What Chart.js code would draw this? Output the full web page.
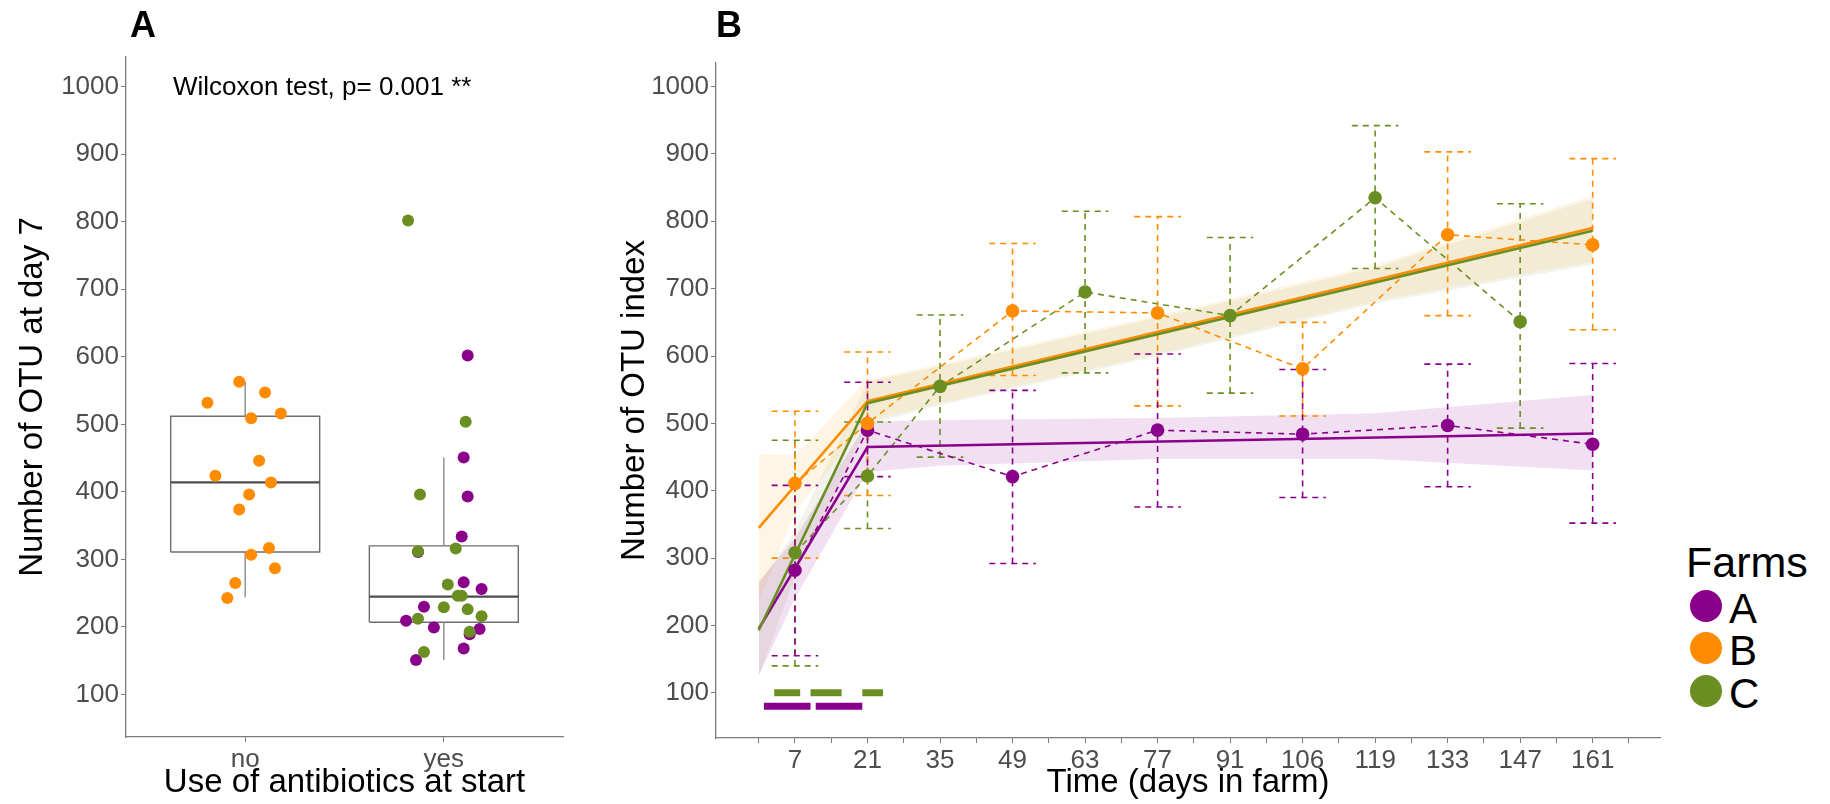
<!DOCTYPE html>
<html>
<head>
<meta charset="utf-8">
<script src="https://cdn.jsdelivr.net/npm/chart.js@4.4.1/dist/chart.umd.min.js"></script>
<style>
html,body{margin:0;padding:0;background:#fff;}
body{width:1830px;height:804px;position:relative;overflow:hidden;font-family:"Liberation Sans",Arial,sans-serif;}
#ca{position:absolute;left:0;top:0;}
#cb{position:absolute;left:600px;top:0;}
.panel{position:absolute;font-weight:bold;font-size:36px;line-height:36px;color:#000;}
#stat{position:absolute;left:173px;top:73px;font-size:26px;line-height:26px;color:#000;white-space:nowrap;}
#legTitle{position:absolute;left:1686px;top:541px;font-size:43px;line-height:43px;color:#000;}
.legDot{position:absolute;left:1690px;width:32px;height:32px;border-radius:50%;}
.legTxt{position:absolute;left:1729px;font-size:42px;line-height:42px;color:#000;}
</style>
</head>
<body>
<canvas id="ca" width="600" height="804"></canvas>
<canvas id="cb" width="1070" height="804"></canvas>
<div class="panel" style="left:130px;top:7px;">A</div>
<div class="panel" style="left:716px;top:7px;">B</div>
<div id="stat">Wilcoxon test, p= 0.001 **</div>
<div id="legend"></div>
<script>
// ---------------- Panel A data ----------------
const groupLabels = ['no', 'yes'];
const boxQ1 = [311, 207];
const boxMedian = [414, 245];
const boxQ3 = [512, 320];
const whiskerLow = [244, 151];
const whiskerHigh = [563, 451];
// Farm B (orange) – no antibiotics
const noFarmB = [563, 547, 532, 509, 516, 446, 424, 414, 396, 374, 307, 317, 287, 265, 243];
const noFarmBJitter = [-0.03, 0.10, -0.19, 0.03, 0.18, 0.07, -0.15, 0.13, 0.02, -0.03, 0.03, 0.12, 0.15, -0.05, -0.09];
// Farm C (green) – antibiotics
const yesFarmC = [802, 504, 396, 312, 316, 263, 246, 246, 229, 226, 212, 216, 193, 163];
const yesFarmCJitter = [-0.18, 0.11, -0.12, -0.13, 0.06, 0.02, 0.07, 0.09, 0.00, 0.12, -0.13, 0.19, 0.13, -0.10];
// Farm A (purple) – antibiotics
const yesFarmA = [602, 451, 393, 334, 311, 266, 256, 230, 209, 199, 197, 189, 168, 151];
const yesFarmAJitter = [0.12, 0.10, 0.12, 0.09, -0.13, 0.10, 0.19, -0.10, -0.19, -0.05, 0.18, 0.13, 0.10, -0.14];

// ---------------- Panel B data ----------------
const sampleDays = [7, 21, 35, 49, 63, 77, 91, 105, 119, 133, 147, 161];
const dayLabels = ['7', '21', '35', '49', '63', '77', '91', '106', '119', '133', '147', '161'];
const meanA = [282, 490, null, 421, null, 490, null, 484, null, 497, null, 469];
const lowA  = [155, 421, null, 292, null, 376, null, 390, null, 406, null, 352];
const highA = [408, 561, null, 549, null, 603, null, 580, null, 588, null, 589];
const meanB = [411, 500, null, 667, null, 664, null, 581, null, 780, null, 765];
const lowB  = [300, 393, null, 571, null, 526, null, 511, null, 660, null, 639];
const highB = [518, 606, null, 767, null, 807, null, 650, null, 903, null, 893];
const meanC = [308, 422, 555, null, 695, null, 660, null, 835, null, 651, null];
const lowC  = [140, 344, 450, null, 575, null, 545, null, 730, null, 493, null];
const highC = [475, 502, 661, null, 815, null, 776, null, 942, null, 826, null];
// fitted segmented regression
const fitDays = [0, 21, 161];
const fitA = [195, 465, 485];
const fitB = [345, 533, 790];
const fitC = [193, 530, 786];
const bandDays = [0, 7, 21, 35, 77, 119, 161];
const bandAHigh = [265, 330, 503, 505, 508, 515, 542];
const bandALow  = [125, 240, 428, 437, 447, 447, 430];
const bandBHigh = [455, 452, 565, 588, 660, 735, 838];
const bandBLow  = [235, 368, 503, 530, 603, 682, 740];
const bandCHigh = [262, 340, 562, 585, 657, 731, 833];
const bandCLow  = [125, 272, 498, 527, 600, 678, 736];
// antibiotic treatment periods (days)
const abxCStart = [3, 10, 20];
const abxCEnd   = [8, 16, 24];
const abxCLevel = 100;
const abxAStart = [1, 11];
const abxAEnd   = [10, 20];
const abxALevel = 80;

const yTicks = [100, 200, 300, 400, 500, 600, 700, 800, 900, 1000];
const farmNames = ['A', 'B', 'C'];
const farmColors = ['#8B008B', '#FF8C00', '#6B8E23'];
const bandColors = ['rgba(139,0,139,0.12)', 'rgba(255,170,40,0.12)', 'rgba(130,140,60,0.10)'];

// ---------------- helpers ----------------
const FONT = '"Liberation Sans", Arial, sans-serif';
Chart.defaults.font.family = FONT;
const AXIS = '#7a7a7a';
const TICKC = '#4d4d4d';
const BOXW = 0.375;
const CAP = 4.5;

function pts(xs, ys) { return ys.map((y, i) => ({x: xs[i], y: y})); }
function jittered(g, ys, jit) { return ys.map((y, i) => ({x: g + jit[i], y: y})); }

function boxRects() {
  const out = [];
  boxQ1.forEach((q1, i) => {
    const g = i + 1, q3 = boxQ3[i];
    out.push({x: g - BOXW, y: q1}, {x: g + BOXW, y: q1}, {x: g + BOXW, y: q3}, {x: g - BOXW, y: q3}, {x: g - BOXW, y: q1}, {x: g, y: null});
  });
  return out;
}
function medians() {
  const out = [];
  boxMedian.forEach((m, i) => { const g = i + 1; out.push({x: g - BOXW, y: m}, {x: g + BOXW, y: m}, {x: g, y: null}); });
  return out;
}
function whiskers() {
  const out = [];
  boxQ1.forEach((q1, i) => {
    const g = i + 1;
    out.push({x: g, y: boxQ3[i]}, {x: g, y: whiskerHigh[i]}, {x: g, y: null}, {x: g, y: whiskerLow[i]}, {x: g, y: q1}, {x: g, y: null});
  });
  return out;
}
function errV(lo, hi) {
  const out = [];
  sampleDays.forEach((d, i) => { if (lo[i] == null) return; out.push({x: d, y: lo[i]}, {x: d, y: hi[i]}, {x: d, y: null}); });
  return out;
}
function errCaps(lo, hi) {
  const out = [];
  sampleDays.forEach((d, i) => {
    if (lo[i] == null) return;
    out.push({x: d - CAP, y: hi[i]}, {x: d + CAP, y: hi[i]}, {x: d, y: null});
    out.push({x: d - CAP, y: lo[i]}, {x: d + CAP, y: lo[i]}, {x: d, y: null});
  });
  return out;
}
function segs(starts, ends, level) {
  const out = [];
  starts.forEach((s, i) => { out.push({x: s, y: level}, {x: ends[i], y: level}, {x: s, y: null}); });
  return out;
}
function yAxis(min, max, width, titleText, titlePad) {
  return {
    type: 'linear', min: min, max: max,
    afterBuildTicks: s => { s.ticks = yTicks.map(v => ({value: v})); },
    afterFit: s => { s.width = width; },
    ticks: {color: TICKC, font: {size: 26}, padding: 2, callback: v => String(v)},
    grid: {drawOnChartArea: false, drawTicks: true, tickLength: 5, color: AXIS, tickColor: AXIS},
    border: {display: true, color: AXIS, width: 1.3},
    title: {display: true, text: titleText, color: '#000', font: {size: 33}, padding: {top: titlePad, bottom: 0}}
  };
}
const baseOpts = {
  responsive: false, animation: false, events: [],
  plugins: {legend: {display: false}, tooltip: {enabled: false}},
  elements: {line: {tension: 0}, point: {radius: 0, borderWidth: 0}}
};

// ---------------- Chart A ----------------
const RA = 6;
new Chart(document.getElementById('ca'), {
  type: 'line',
  data: {datasets: [
    {data: boxRects(), borderColor: '#6e6e6e', borderWidth: 1.4, pointRadius: 0, order: 60},
    {data: whiskers(), borderColor: '#8a8a8a', borderWidth: 1.4, pointRadius: 0, order: 58},
    {data: medians(), borderColor: '#4d4d4d', borderWidth: 2.2, pointRadius: 0, order: 55},
    {label: 'B', data: jittered(1, noFarmB, noFarmBJitter), showLine: false, pointRadius: RA, pointBackgroundColor: farmColors[1], pointBorderWidth: 0, order: 30},
    {label: 'A', data: jittered(2, yesFarmA, yesFarmAJitter), showLine: false, pointRadius: RA, pointBackgroundColor: farmColors[0], pointBorderWidth: 0, order: 25},
    {label: 'C', data: jittered(2, yesFarmC, yesFarmCJitter), showLine: false, pointRadius: RA, pointBackgroundColor: farmColors[2], pointBorderWidth: 0, order: 20}
  ]},
  options: Object.assign({}, baseOpts, {
    layout: {padding: {top: 57, right: 37, bottom: 0, left: 0}},
    scales: {
      x: {
        type: 'linear', min: 0.4, max: 2.6,
        afterBuildTicks: s => { s.ticks = groupLabels.map((l, i) => ({value: i + 1})); },
        afterFit: s => { s.height = 67; },
        ticks: {color: TICKC, font: {size: 26}, padding: 2, autoSkip: false, maxRotation: 0,
                callback: v => groupLabels[v - 1] || ''},
        grid: {drawOnChartArea: false, drawTicks: true, tickLength: 5, color: AXIS, tickColor: AXIS},
        border: {display: true, color: AXIS, width: 1.3},
        title: {display: true, text: 'Use of antibiotics at start', color: '#000', font: {size: 33}, padding: {top: 0, bottom: 1}}
      },
      y: yAxis(37, 1044, 126, 'Number of OTU at day 7', 12.7)
    }
  })
});

// ---------------- Chart B ----------------
const dsB = [];
const bandHi = [bandAHigh, bandBHigh, bandCHigh], bandLo = [bandALow, bandBLow, bandCLow];
const means = [meanA, meanB, meanC], lows = [lowA, lowB, lowC], highs = [highA, highB, highC];
const fits = [fitA, fitB, fitC];
for (let f = 0; f < 3; f++) {
  dsB.push({data: pts(bandDays, bandHi[f]), fill: '+1', backgroundColor: bandColors[f], borderColor: 'transparent', borderWidth: 0, pointRadius: 0, order: 100});
  dsB.push({data: pts(bandDays, bandLo[f]), fill: false, borderColor: 'transparent', borderWidth: 0, pointRadius: 0, order: 100});
}
const dashStyle = {borderWidth: 1.6, borderDash: [6, 5], pointRadius: 0};
for (let f = 0; f < 3; f++) {
  dsB.push(Object.assign({data: errV(lows[f], highs[f]), borderColor: farmColors[f], order: 50}, dashStyle));
  dsB.push(Object.assign({data: errCaps(lows[f], highs[f]), borderColor: farmColors[f], order: 50}, dashStyle));
  dsB.push(Object.assign({data: pts(sampleDays, means[f]), borderColor: farmColors[f], spanGaps: true, order: 45}, dashStyle));
}
[0, 2, 1].forEach(f => {
  dsB.push({data: pts(fitDays, fits[f]), borderColor: farmColors[f], borderWidth: 2.6, pointRadius: 0, order: 30 - f});
});
for (let f = 0; f < 3; f++) {
  dsB.push({label: farmNames[f], data: pts(sampleDays, means[f]), showLine: false, pointRadius: 6.8, pointBackgroundColor: farmColors[f], pointBorderWidth: 0, order: 20 - f});
}
dsB.push({data: segs(abxCStart, abxCEnd, abxCLevel), borderColor: farmColors[2], borderWidth: 7, borderCapStyle: 'butt', pointRadius: 0, order: 5});
dsB.push({data: segs(abxAStart, abxAEnd, abxALevel), borderColor: farmColors[0], borderWidth: 7, borderCapStyle: 'butt', pointRadius: 0, order: 5});

new Chart(document.getElementById('cb'), {
  type: 'line',
  data: {datasets: dsB},
  options: Object.assign({}, baseOpts, {
    layout: {padding: {top: 63, right: 10, bottom: 0, left: 0}},
    scales: {
      x: {
        type: 'linear', min: -8.25, max: 174,
        afterBuildTicks: s => { const t = []; for (let d = 0; d <= 168; d += 7) t.push({value: d}); s.ticks = t; },
        afterFit: s => { s.height = 66; },
        ticks: {color: TICKC, font: {size: 26}, padding: 2, autoSkip: false, maxRotation: 0,
                callback: v => { const i = sampleDays.indexOf(v); return i >= 0 ? dayLabels[i] : ''; }},
        grid: {drawOnChartArea: false, drawTicks: true, tickLength: 5, color: AXIS, tickColor: AXIS},
        border: {display: true, color: AXIS, width: 1.3},
        title: {display: true, text: 'Time (days in farm)', color: '#000', font: {size: 33}, padding: {top: 0, bottom: 1}}
      },
      y: yAxis(33, 1035, 116, 'Number of OTU index', 14.7)
    }
  })
});

// ---------------- legend (HTML) ----------------
const leg = document.getElementById('legend');
const t = document.createElement('div'); t.id = 'legTitle'; t.textContent = 'Farms'; leg.appendChild(t);
const dotTops = [590, 632, 675];
farmNames.forEach((n, i) => {
  const d = document.createElement('div'); d.className = 'legDot';
  d.style.top = dotTops[i] + 'px'; d.style.background = farmColors[i]; leg.appendChild(d);
  const s = document.createElement('div'); s.className = 'legTxt';
  s.style.top = (dotTops[i] - 2) + 'px'; s.textContent = n; leg.appendChild(s);
});
</script>
</body>
</html>
